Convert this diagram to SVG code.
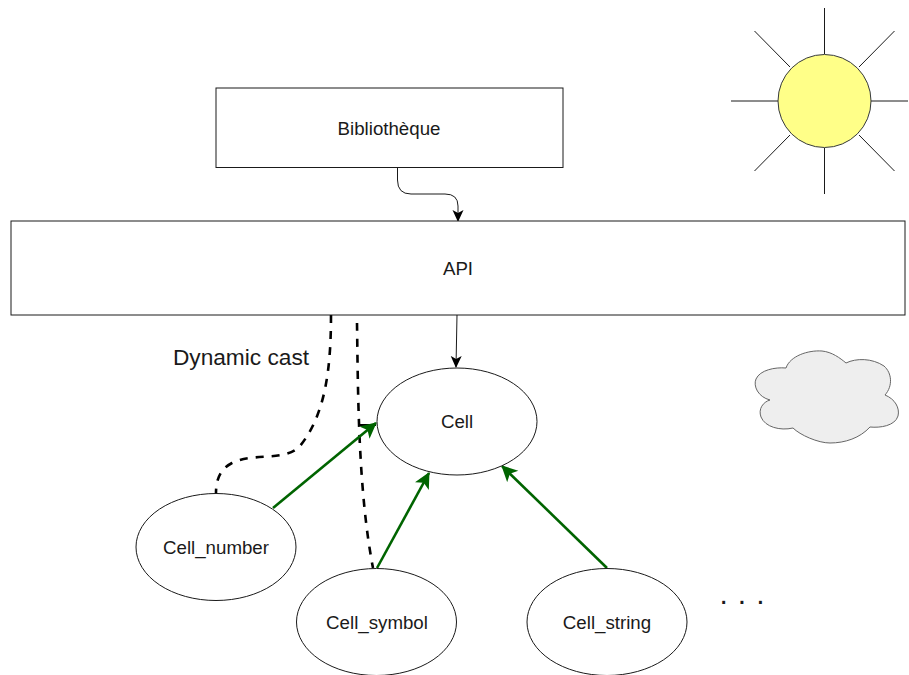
<svg xmlns="http://www.w3.org/2000/svg" width="909" height="675" viewBox="0 0 909 675">
<style>
.n{fill:#fff;stroke:#1a1a1a;stroke-width:1}
text{font-family:"Liberation Sans",Arial,sans-serif;font-size:18.7px;fill:#1a1a1a;text-anchor:middle}
.k{fill:none;stroke:#1a1a1a;stroke-width:1}
.g{fill:none;stroke:#006400;stroke-width:2.6}
.d{fill:none;stroke:#000;stroke-width:2.6;stroke-dasharray:8 8}
</style>
<defs>
<marker id="ak" markerUnits="userSpaceOnUse" markerWidth="14" markerHeight="14" refX="11" refY="5.500" orient="auto"><path d="M0 0L12 5.500L0 11L3 5.500Z" fill="#000"/></marker>
<marker id="ag" markerUnits="userSpaceOnUse" markerWidth="20" markerHeight="20" refX="15" refY="8" orient="auto"><path d="M0 0L16 8L0 16L4 8Z" fill="#006400"/></marker>
</defs>
<g id="sun">
<path class="k" d="M824.500 8V54M824.500 148V194M731 101H778M871 101H908M754.500 31L790 67M894.500 31L859 67M754.500 171L790 135M894.500 171L859 135"/>
<circle cx="824.500" cy="101" r="46.500" fill="#ffff88" stroke="#36393d" stroke-width="1"/>
</g>
<g id="cloud">
<path d="M786 368C790 356 808 350 822 351C832 352 840 358 846 363C856 358 872 358 884 366C892 373 893 386 885 395C895 399 900 408 898 416C895 426 880 428 870 427C860 438 845 443 830 443C818 443 800 435 793 428C780 431 765 427 761 417C758 409 763 402 770 400C758 397 753 386 756 379C760 370 775 367 786 368Z" fill="#eeeeee" stroke="#666" stroke-width="1"/>
</g>
<g id="connectors">
<path class="k" d="M397.500 167V180Q397.500 194 411 194H445Q458 194 458 206V221" marker-end="url(#ak)"/>
<path class="k" d="M457 315L456 367" marker-end="url(#ak)"/>
<path class="d" d="M331 315C331 370 325 415 300 446C285 462 255 452 232 463C220 469 216 480 216 493"/>
<path class="d" d="M357 323C358 390 358 490 373 568"/>
<path d="M358 425H376" fill="none" stroke="#000" stroke-width="2"/>
<path class="g" d="M273 508L376 423" marker-end="url(#ag)"/>
<path class="g" d="M377 568L429 473" marker-end="url(#ag)"/>
<path class="g" d="M607 568L502 466" marker-end="url(#ag)"/>
</g>
<g id="bibliotheque"><rect class="n" x="216" y="88" width="347" height="79.500"/><text x="389" y="135">Bibliothèque</text></g>
<g id="api"><rect class="n" x="11" y="221" width="894" height="94"/><text x="458" y="275">API</text></g>
<g id="cell"><ellipse class="n" cx="457" cy="421.500" rx="80" ry="53.500"/><text x="457" y="428">Cell</text></g>
<g id="cell_number"><ellipse class="n" cx="216" cy="547" rx="80" ry="53.500"/><text x="216" y="554">Cell_number</text></g>
<g id="cell_symbol"><ellipse class="n" cx="376.500" cy="622" rx="80" ry="53.500"/><text x="377" y="629">Cell_symbol</text></g>
<g id="cell_string"><ellipse class="n" cx="607" cy="622" rx="80" ry="53.500"/><text x="607" y="629">Cell_string</text></g>
<g id="labels">
<text x="241" y="365" style="font-size:22.700px">Dynamic cast</text>
<text x="747" y="604" style="font-size:30px;letter-spacing:10px">...</text>
</g>
</svg>
